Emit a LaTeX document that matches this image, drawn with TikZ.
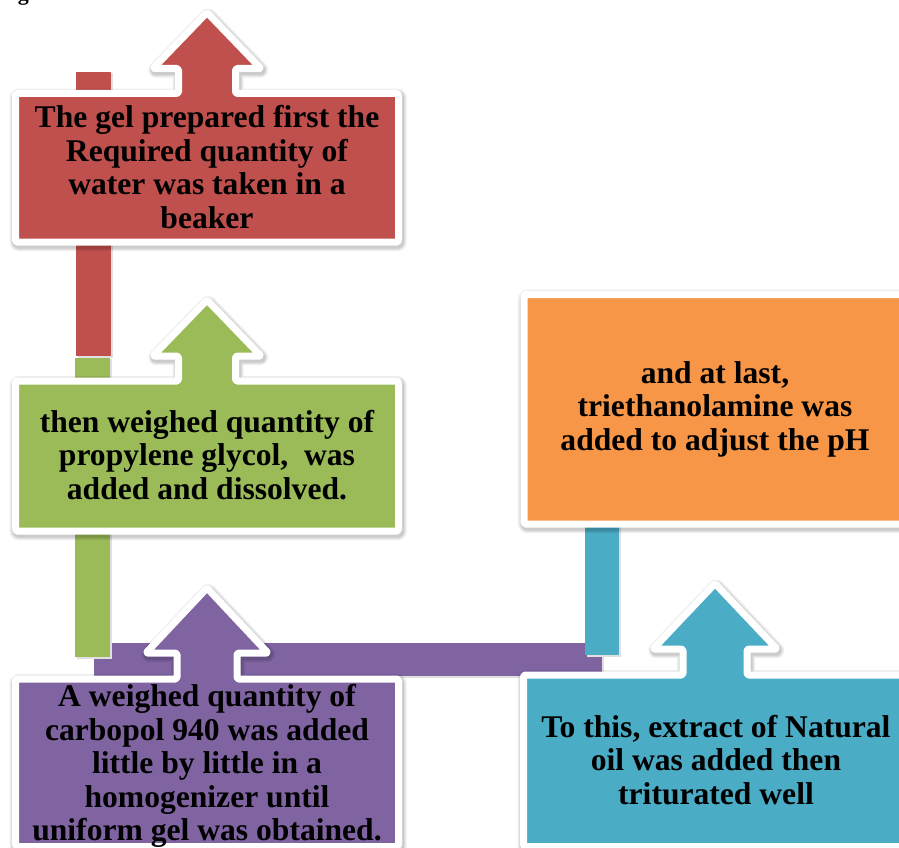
\documentclass[tikz,border=0pt]{standalone}
\usepackage{fontspec}
\setmainfont{Liberation Serif}
\definecolor{cRed}{HTML}{C0504D}
\definecolor{cGreen}{HTML}{9BBB59}
\definecolor{cPurple}{HTML}{8064A2}
\definecolor{cTeal}{HTML}{4BACC6}
\definecolor{cOrange}{HTML}{F79646}
% #1 left, #2 top, #3 right, #4 bottom, #5 arrow centre x, #6 shaft half width, #7 head half width, #8 head base y, #9 tip y
\newcommand\upbox[9]{(#1,#4) -- (#1,#2) -- ({#5-#6},#2) -- ({#5-#6},#8) -- ({#5-#7},#8) -- (#5,#9) -- ({#5+#7},#8) -- ({#5+#6},#8) -- ({#5+#6},#2) -- (#3,#2) -- (#3,#4) -- cycle}
\tikzset{
  shapebox/.style={draw=white, line width=7pt, line join=round, rounded corners=1.5pt},
  glowline/.style={draw=black, draw opacity=0.07, line join=round, rounded corners=1.5pt, transform canvas={shift={(1.2pt,-2.2pt)}}},
  barshadow/.style={fill=black!12, transform canvas={shift={(1.5pt,-1.5pt)}}},
  txt/.style={font=\bfseries\fontsize{31.6}{33.5}\selectfont, align=center, inner sep=0pt, text=black}
}
\newcommand\stepshape[2]{%
  \draw[glowline, line width=14pt] #2;
  \draw[glowline, line width=11pt] #2;
  \draw[glowline, line width=9pt] #2;
  \draw[shapebox, fill=#1] #2;}
\begin{document}
\begin{tikzpicture}[x=1pt,y=-1pt]
\useasboundingbox (0,0) rectangle (899,848);
\clip (0,0) rectangle (899,848);
\fill[white] (0,0) rectangle (899,848);

% cut-off caption at the top edge
\node[anchor=base west, inner sep=0pt, font=\bfseries\fontsize{22}{24}\selectfont] (fig) at (-2,0.5) {Fig};

% connector bars
\coordinate (pb1) at (94,643);  \coordinate (pb2) at (602,676);
\coordinate (rb1) at (76,72);   \coordinate (rb2) at (111,356);
\coordinate (gb1) at (75,357.5);\coordinate (gb2) at (110,657);
\coordinate (tb1) at (585,524); \coordinate (tb2) at (619,655);

\fill[barshadow] (pb1) rectangle (pb2);
\fill[cPurple] (pb1) rectangle (pb2);
\fill[barshadow] (rb1) rectangle (rb2);
\fill[cRed] (rb1) rectangle (rb2);
\fill[barshadow] (gb1) rectangle (gb2);
\fill[cGreen] (gb1) rectangle (gb2);
\fill[barshadow] (tb1) rectangle (tb2);
\fill[cTeal] (tb1) rectangle (tb2);

% steps
\stepshape{cRed}{\upbox{15.5}{93.5}{398.5}{242}{207}{28.5}{54}{68.5}{12.5}}
\stepshape{cGreen}{\upbox{15.5}{381}{398.5}{531}{207}{28.5}{54}{356}{300}}
\stepshape{cOrange}{(524,294.5) rectangle (906,524)}
\stepshape{cPurple}{\upbox{15.5}{679}{398.5}{846.5}{207}{30}{61}{653}{588}}
\stepshape{cTeal}{\upbox{523.5}{675}{908}{846.5}{715}{32}{62}{649}{583.5}}

% texts
\node[txt] (t1) at (207,167) {The gel prepared first the\\Required quantity of\\water was taken in a\\beaker};
\node[txt] (t2) at (207,455) {then weighed quantity of\\propylene glycol,\ \ was\\added and dissolved.};
\node[txt] (t3) at (715,409) {and at last,\\triethanolamine was\\added to adjust the pH};
\node[txt] (t4) at (207,766) {A weighed quantity of\\carbopol 940 was added\\little by little in a\\homogenizer until\\uniform gel was obtained.};
\node[txt] (t5) at (716,760) {To this, extract of Natural\\oil was added then\\triturated well};
\end{tikzpicture}
\end{document}
